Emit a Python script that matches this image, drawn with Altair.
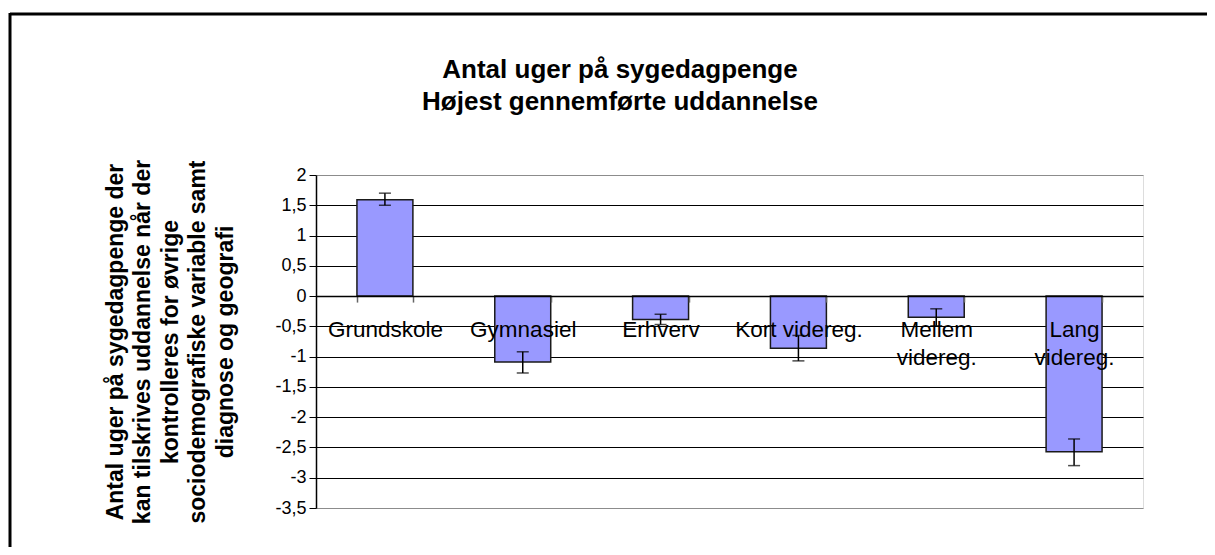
import json
import altair as alt
import pandas as pd

# ---- data ----
categories = ["Grundskole", "Gymnasiel", "Erhverv", "Kort videreg.", "Mellem videreg.", "Lang videreg."]
values = [1.59, -1.09, -0.385, -0.86, -0.35, -2.57]
err_low = [1.50, -1.27, -0.47, -1.07, -0.49, -2.80]
err_high = [1.70, -0.92, -0.30, -0.65, -0.21, -2.36]
y_ticks = [2, 1.5, 1, 0.5, 0, -0.5, -1, -1.5, -2, -2.5, -3, -3.5]
wrapped_labels = ["Mellem videreg.", "Lang videreg."]
title_lines = ["Antal uger på sygedagpenge", "Højest gennemførte uddannelse"]
ytitle_lines = [
    "Antal uger på sygedagpenge der",
    "kan tilskrives uddannelse når der",
    "kontrolleres for øvrige",
    "sociodemografiske variable samt",
    "diagnose og geografi",
]

df = pd.DataFrame({"cat": categories, "value": values, "lo": err_low, "hi": err_high})
one = pd.DataFrame({"k": [0]})

W, H = 827, 333
FONT = "Liberation Sans"
Y_MIN, Y_MAX = -3.5, 2.0
zero_from_bottom = H * (0 - Y_MIN) / (Y_MAX - Y_MIN)

yscale = alt.Scale(domain=[Y_MIN, Y_MAX], nice=False, zero=False)
xscale = alt.Scale(paddingInner=0.594, paddingOuter=0.297)

label_expr_x = (
    "indexof(" + json.dumps(wrapped_labels) + ", datum.label) >= 0 ? "
    "split(datum.label, ' ') : datum.label"
)

xaxis = alt.Axis(
    title=None, labelAngle=0, labelFont=FONT, labelFontSize=22.5, labelColor="black",
    labelPadding=16, labelBaseline="top", labelLineHeight=28, labelExpr=label_expr_x,
    labelOverlap=False, labelLimit=300, tickBand="extent", tickSize=6, tickColor="#666666",
    tickWidth=1.5, domainColor="black", domainWidth=1.5, grid=False,
    offset=-zero_from_bottom, zindex=1,
)

yaxis = alt.Axis(
    values=y_ticks,
    labelExpr="(datum.value < 0 ? '-' : '') + replace(format(abs(datum.value), '~g'), '.', ',')",
    labelFont=FONT, labelFontSize=18, labelColor="black", labelPadding=3,
    tickSize=7, tickColor="black", tickWidth=1, domainColor="black", domainWidth=1.5,
    grid=True,
    gridColor={"condition": {"test": "datum.value == 2 || datum.value == -3.5", "value": "#8c8c8c"},
               "value": "black"},
    gridWidth=1,
    title=ytitle_lines, titleFont=FONT, titleFontSize=23, titleFontWeight="bold",
    titleColor="black", titleLineHeight=27.5, titleAngle=270, titleAlign="center",
    titleBaseline="middle", titleX=-201, titleY=H / 2, zindex=0,
)

X = alt.X("cat:N", sort=categories, scale=xscale, axis=xaxis)

bars = alt.Chart(df).mark_bar(color="#9999FF", stroke="#1a1a1a", strokeWidth=1.5).encode(
    x=X,
    y=alt.Y("value:Q", scale=yscale, axis=yaxis),
    y2=alt.datum(0),
)

err_rule = alt.Chart(df).mark_rule(color="black", strokeWidth=1.5).encode(
    x=X, y=alt.Y("lo:Q", scale=yscale, axis=yaxis), y2="hi:Q"
)
cap_lo = alt.Chart(df).mark_tick(color="black", thickness=1.5, size=12).encode(
    x=X, y=alt.Y("lo:Q", scale=yscale, axis=yaxis)
)
cap_hi = alt.Chart(df).mark_tick(color="black", thickness=1.5, size=12).encode(
    x=X, y=alt.Y("hi:Q", scale=yscale, axis=yaxis)
)

# chart title as text
title = alt.Chart(one).mark_text(
    text=title_lines, font=FONT, fontSize=26, fontWeight="bold", color="black",
    lineHeight=32, align="center", baseline="alphabetic",
).encode(x=alt.value(304), y=alt.value(-97))

# outer frame (top and left edges)
frame_top = alt.Chart(one).mark_rule(color="black", strokeWidth=3).encode(
    x=alt.value(-306), x2=alt.value(905), y=alt.value(-161)
)
frame_left = alt.Chart(one).mark_rule(color="black", strokeWidth=3).encode(
    x=alt.value(-306), y=alt.value(-162), y2=alt.value(400)
)

chart = alt.layer(bars, err_rule, cap_lo, cap_hi, title, frame_top, frame_left).properties(
    width=W, height=H,
    autosize=alt.AutoSizeParams(type="none"),
    padding={"left": 308, "top": 167, "right": 64, "bottom": 39},
).configure_view(stroke="#808080", strokeWidth=2).configure(font=FONT, background="white")

chart.save("out.html", embed_options={"renderer": "svg", "actions": False})
